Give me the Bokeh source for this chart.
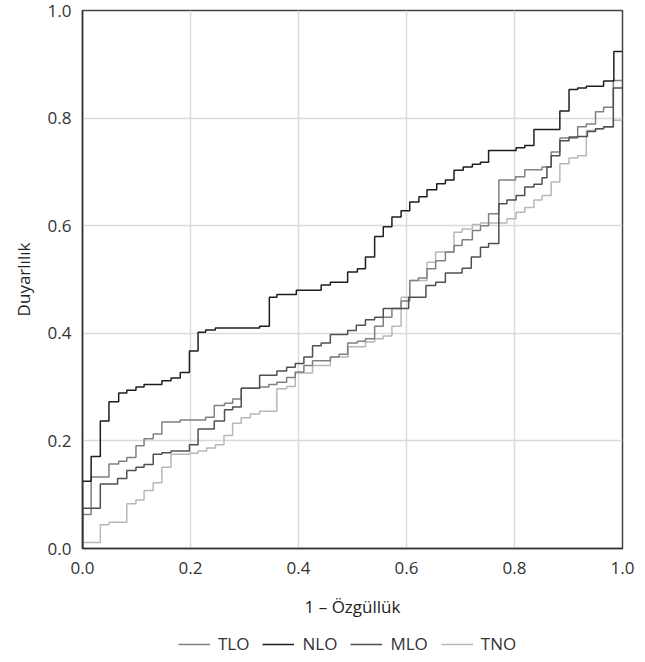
from bokeh.plotting import figure
from bokeh.layouts import column
from bokeh.models import Legend, LegendItem, FixedTicker, Range1d
from bokeh.embed import file_html
from bokeh.resources import INLINE

# ROC step data (1 - specificity, sensitivity)
tlo_x = [0, 0, 0.016, 0.049, 0.067, 0.082, 0.099, 0.114, 0.131, 0.147, 0.181, 0.228, 0.244, 0.263,
         0.278, 0.294, 0.328, 0.345, 0.36, 0.378, 0.394, 0.41, 0.426, 0.459, 0.475, 0.491, 0.509,
         0.524, 0.541, 0.557, 0.573, 0.59, 0.606, 0.622, 0.638, 0.654, 0.672, 0.688, 0.703, 0.722,
         0.737, 0.752, 0.771, 0.802, 0.819, 0.851, 0.868, 0.884, 0.917, 0.933, 0.95, 0.965, 0.983, 1.0]
tlo_y = [0, 0.063, 0.133, 0.157, 0.162, 0.169, 0.191, 0.204, 0.213, 0.235, 0.239, 0.244, 0.266, 0.27,
         0.278, 0.298, 0.30, 0.305, 0.309, 0.318, 0.328, 0.34, 0.349, 0.356, 0.361, 0.382, 0.385,
         0.39, 0.413, 0.43, 0.446, 0.46, 0.498, 0.503, 0.52, 0.535, 0.551, 0.563, 0.574, 0.591,
         0.60, 0.622, 0.685, 0.691, 0.704, 0.709, 0.737, 0.763, 0.784, 0.789, 0.812, 0.82, 0.87, 0.87]

nlo_x = [0, 0, 0.016, 0.033, 0.049, 0.067, 0.082, 0.099, 0.114, 0.147, 0.164, 0.181, 0.198, 0.214,
         0.228, 0.246, 0.328, 0.346, 0.36, 0.396, 0.442, 0.459, 0.491, 0.509, 0.524, 0.541, 0.557,
         0.573, 0.59, 0.606, 0.623, 0.638, 0.656, 0.672, 0.688, 0.705, 0.722, 0.737, 0.752, 0.803,
         0.819, 0.836, 0.884, 0.901, 0.917, 0.933, 0.965, 0.984, 1.0]
nlo_y = [0, 0.125, 0.171, 0.237, 0.273, 0.289, 0.294, 0.30, 0.305, 0.312, 0.317, 0.327, 0.367, 0.402,
         0.406, 0.41, 0.413, 0.467, 0.472, 0.48, 0.49, 0.495, 0.514, 0.52, 0.542, 0.58, 0.598,
         0.616, 0.628, 0.644, 0.654, 0.667, 0.678, 0.685, 0.703, 0.709, 0.714, 0.718, 0.74, 0.745,
         0.749, 0.779, 0.813, 0.853, 0.856, 0.859, 0.869, 0.924, 0.924]

mlo_x = [0, 0, 0.033, 0.065, 0.082, 0.099, 0.114, 0.131, 0.147, 0.164, 0.198, 0.214, 0.244, 0.263,
         0.278, 0.294, 0.328, 0.36, 0.378, 0.394, 0.41, 0.426, 0.442, 0.459, 0.491, 0.507, 0.524,
         0.541, 0.557, 0.604, 0.636, 0.654, 0.672, 0.703, 0.72, 0.737, 0.752, 0.771, 0.786, 0.803,
         0.819, 0.836, 0.851, 0.86, 0.868, 0.884, 0.901, 0.917, 0.935, 0.95, 0.965, 0.983, 1.0]
mlo_y = [0, 0.075, 0.12, 0.13, 0.145, 0.151, 0.156, 0.175, 0.178, 0.181, 0.193, 0.222, 0.237, 0.258,
         0.263, 0.298, 0.322, 0.33, 0.337, 0.344, 0.356, 0.377, 0.382, 0.398, 0.405, 0.415, 0.425,
         0.43, 0.446, 0.467, 0.489, 0.495, 0.512, 0.521, 0.542, 0.56, 0.567, 0.641, 0.648, 0.656,
         0.672, 0.677, 0.689, 0.709, 0.73, 0.758, 0.765, 0.766, 0.775, 0.78, 0.784, 0.856, 0.856]

tno_x = [0, 0, 0.033, 0.049, 0.082, 0.099, 0.114, 0.131, 0.147, 0.164, 0.198, 0.214, 0.23, 0.246,
         0.262, 0.278, 0.294, 0.311, 0.328, 0.36, 0.378, 0.394, 0.426, 0.459, 0.492, 0.524, 0.541,
         0.557, 0.573, 0.59, 0.606, 0.638, 0.654, 0.688, 0.703, 0.722, 0.737, 0.786, 0.803, 0.819,
         0.836, 0.851, 0.868, 0.884, 0.901, 0.917, 0.933, 0.95, 0.965, 0.983, 1.0]
tno_y = [0, 0.011, 0.044, 0.049, 0.083, 0.09, 0.108, 0.122, 0.151, 0.175, 0.177, 0.181, 0.187, 0.193,
         0.21, 0.233, 0.243, 0.25, 0.255, 0.297, 0.301, 0.326, 0.34, 0.356, 0.375, 0.384, 0.39,
         0.395, 0.413, 0.467, 0.498, 0.532, 0.551, 0.588, 0.594, 0.602, 0.605, 0.613, 0.625, 0.634,
         0.648, 0.656, 0.681, 0.715, 0.726, 0.73, 0.777, 0.78, 0.783, 0.796, 0.796]

series_names = ["TLO", "NLO", "MLO", "TNO"]
series_colors = ["#808080", "#1e1e1e", "#505050", "#b8b8b8"]
ticks = [0.0, 0.2, 0.4, 0.6, 0.8, 1.0]
FONT = "Open Sans"
FS = "17px"

p = figure(width=640, height=625, output_backend="svg", toolbar_location=None,
           x_range=Range1d(0, 1), y_range=Range1d(0, 1),
           min_border_left=82, min_border_right=18, min_border_top=10, min_border_bottom=77)
p.outline_line_color = "#444444"
p.outline_line_width = 1.5

for ax in (p.xaxis[0], p.yaxis[0]):
    ax.ticker = FixedTicker(ticks=ticks)
    ax.major_tick_line_color = None
    ax.minor_tick_line_color = None
    ax.major_tick_in = 0
    ax.major_tick_out = 0
    ax.axis_line_color = "#333333"
    ax.axis_line_width = 1.5
    ax.major_label_text_font = FONT
    ax.major_label_text_font_size = FS
    ax.major_label_text_color = "#333333"
    ax.axis_label_text_font = FONT
    ax.axis_label_text_font_size = FS
    ax.axis_label_text_font_style = "normal"
    ax.axis_label_text_color = "#222222"

p.xaxis[0].major_label_overrides = {t: f"{t:.1f}" for t in ticks}
p.yaxis[0].major_label_overrides = {t: f"{t:.1f}" for t in ticks}
p.xaxis.axis_label = "1 – Özgüllük"
p.yaxis.axis_label = "Duyarlılık"
p.xaxis.major_label_standoff = 13
p.xaxis.axis_label_standoff = 18
p.yaxis.major_label_standoff = 11
p.yaxis.axis_label_standoff = 10

p.grid.grid_line_color = "#dadada"
p.grid.grid_line_width = 1.5
p.xgrid.ticker = FixedTicker(ticks=[0.2, 0.4, 0.6, 0.8])
p.ygrid.ticker = FixedTicker(ticks=[0.2, 0.4, 0.6, 0.8])

data = {"TLO": (tlo_x, tlo_y), "NLO": (nlo_x, nlo_y), "MLO": (mlo_x, mlo_y), "TNO": (tno_x, tno_y)}
for name in ["TNO", "TLO", "MLO", "NLO"]:
    xs, ys = data[name]
    col = series_colors[series_names.index(name)]
    p.step(xs, ys, mode="after", line_color=col, line_width=1.5)

# legend strip below the chart (its proxy lines lie outside its visible range)
lg = figure(width=640, height=36, output_backend="svg", toolbar_location=None,
            x_range=Range1d(0, 1), y_range=Range1d(5, 6),
            min_border_left=0, min_border_right=0, min_border_top=0, min_border_bottom=0)
lg.axis.visible = False
lg.grid.visible = False
lg.outline_line_color = None
items = []
for name, col in zip(series_names, series_colors):
    xs, ys = data[name]
    r = lg.step(xs, ys, mode="after", line_color=col, line_width=1.5)
    items.append(LegendItem(label=name, renderers=[r]))
legend = Legend(items=items, orientation="horizontal", location=(96, 6),
                border_line_color=None, background_fill_alpha=0,
                label_text_font=FONT, label_text_font_size=FS, label_text_color="#333333",
                glyph_width=32, label_standoff=8, spacing=13, padding=2, margin=0)
lg.add_layout(legend, "center")

layout = column(p, lg, spacing=0)
open("out.html", "w").write(file_html(layout, INLINE))
